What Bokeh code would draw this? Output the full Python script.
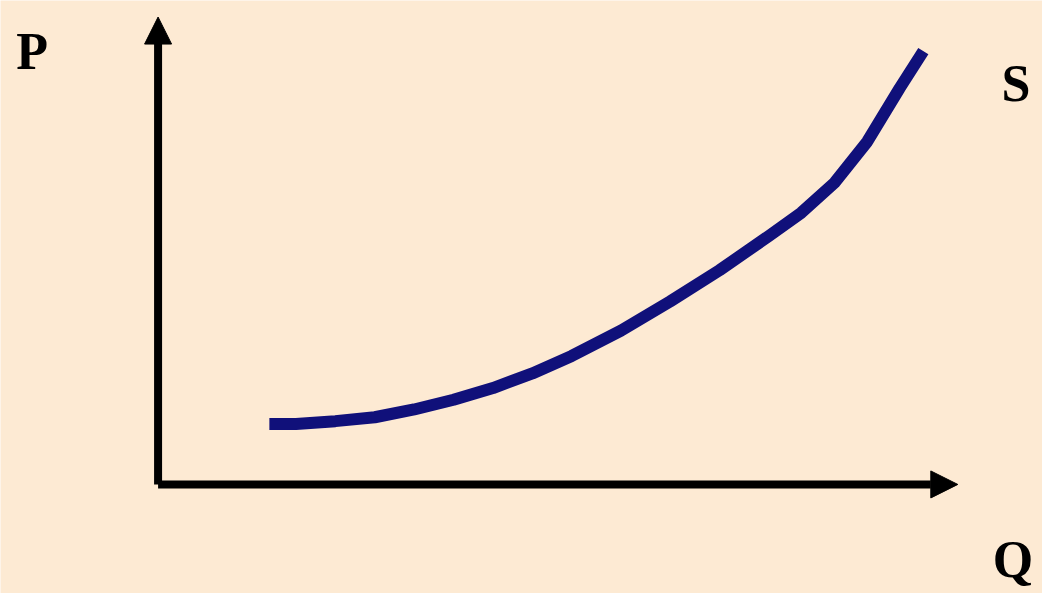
from bokeh.plotting import figure
from bokeh.models import Range1d, Arrow, NormalHead, ColumnDataSource
from bokeh.core.properties import value
from bokeh.embed import file_html
from bokeh.resources import INLINE

# Supply curve S (quantity Q, price P)
supply_q = [113, 140, 180, 220, 260, 300, 340, 380, 420, 470, 520, 570, 620, 653, 687, 720, 753, 777]
supply_p = [62, 62, 65, 69, 77, 87, 99, 114, 132, 158, 188, 220, 255, 279, 310, 352, 407, 445]

# Axis extents (arrow tips)
q_axis_max = 812
p_axis_max = 480

# Labels
label_text = ["P", "S", "Q"]
label_q = [-128, 871, 868]
label_p = [445, 412, -77]

BG = "#FDEAD3"

p = figure(width=1042, height=593, output_backend="svg", toolbar_location=None,
           x_range=Range1d(-160, 898), y_range=Range1d(-112, 497),
           min_border=0, background_fill_color=BG, border_fill_color=BG,
           outline_line_color=None)
p.axis.visible = False
p.grid.visible = False

# Axes as arrows
p.add_layout(Arrow(x_start=0, y_start=0, x_end=0, y_end=p_axis_max,
                   line_width=8, line_color="black",
                   end=NormalHead(size=27, fill_color="black", line_color="black", line_width=1)))
p.add_layout(Arrow(x_start=0, y_start=0, x_end=q_axis_max, y_end=0,
                   line_width=8, line_color="black",
                   end=NormalHead(size=27, fill_color="black", line_color="black", line_width=1)))

src = ColumnDataSource(dict(q=supply_q, p=supply_p))
p.line("q", "p", source=src, line_width=12, line_color="#10107A", line_join="round", line_cap="butt")

lsrc = ColumnDataSource(dict(x=label_q, y=label_p, t=label_text))
p.text("x", "y", text="t", source=lsrc, text_align="center", text_baseline="alphabetic",
       text_font=value("Liberation Serif"), text_font_style="bold", text_font_size="52px",
       text_color="black")

open("out.html", "w").write(file_html(p, INLINE))
